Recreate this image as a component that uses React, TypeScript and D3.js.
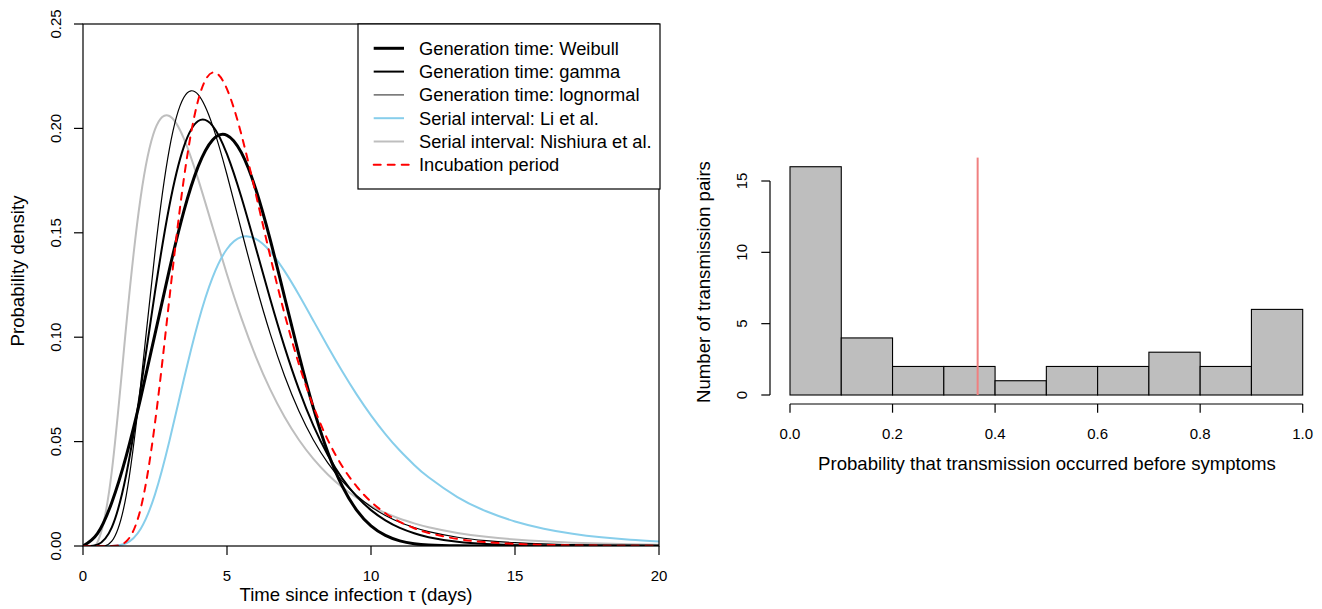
import React, { useEffect, useRef } from 'react';
import * as d3 from 'd3';

// time grid (days) shared by every density curve
const days = [
  0, 0.5, 1, 1.5, 2, 2.5, 3, 3.5, 4, 4.5, 5, 5.5, 6, 6.5, 7, 7.5, 8, 8.5, 9, 9.5,
  10, 10.5, 11, 11.5, 12, 13, 14, 15, 16, 17, 18, 19, 20,
];

const genWeibull = [
  0, 0.00592, 0.02087, 0.04305, 0.07069, 0.10145, 0.13237, 0.16024, 0.18179, 0.19446,
  0.19669, 0.18838, 0.17087, 0.14673, 0.11914, 0.0914, 0.06605, 0.04494, 0.02873, 0.01722,
  0.00966, 0.00505, 0.00246, 0.00112, 0.00047, 0.00007, 0.00001, 0, 0, 0, 0, 0, 0,
];

const genGamma = [
  0, 0.000605, 0.008928, 0.034139, 0.075001, 0.12171, 0.16298, 0.19118, 0.20355, 0.20126,
  0.1877, 0.16699, 0.14287, 0.11829, 0.095246, 0.074893, 0.057656, 0.043577, 0.032401, 0.023743,
  0.01718, 0.012281, 0.008682, 0.006082, 0.004223, 0.001988, 0.00091, 0.000407, 0.000178, 0.000077,
  0.000032, 0.000013, 0.000006,
];

const genLognormal = [
  0, 0.000006, 0.002288, 0.024166, 0.076889, 0.14062, 0.19024, 0.21483, 0.21615, 0.20132,
  0.17779, 0.15123, 0.12523, 0.1017, 0.081436, 0.06455, 0.050798, 0.039771, 0.031034, 0.024164,
  0.018795, 0.014613, 0.011364, 0.008845, 0.006891, 0.004203, 0.002581, 0.001598, 0.000998, 0.000629,
  0.0004, 0.000257, 0.000166,
];

const serialLi = [
  0, 0, 0.000047, 0.001314, 0.008147, 0.024716, 0.050258, 0.079698, 0.10721, 0.12867,
  0.14224, 0.14797, 0.14704, 0.14104, 0.13163, 0.12021, 0.10791, 0.095543, 0.083667, 0.072617,
  0.062575, 0.053607, 0.045711, 0.038835, 0.032893, 0.023451, 0.016624, 0.011757, 0.008306, 0.005873,
  0.00416, 0.002955, 0.002105,
];

const serialNishiura = [
  0, 0.001728, 0.035734, 0.10543, 0.16679, 0.1995, 0.20594, 0.19521, 0.17559, 0.15276,
  0.13004, 0.10913, 0.090729, 0.074992, 0.061759, 0.050762, 0.041697, 0.034256, 0.028165, 0.023189,
  0.01912, 0.015795, 0.013074, 0.010845, 0.009015, 0.006275, 0.004406, 0.003122, 0.002234, 0.001611,
  0.001171, 0.000859, 0.000634,
];

const incubation = [
  0, 0, 0.000039, 0.002173, 0.017785, 0.058934, 0.11851, 0.17567, 0.21356, 0.22674,
  0.21881, 0.19704, 0.16861, 0.13886, 0.1111, 0.086944, 0.066905, 0.050824, 0.038232, 0.028543,
  0.0212, 0.015676, 0.011562, 0.008511, 0.006261, 0.003384, 0.001833, 0.000998, 0.000547, 0.000302,
  0.000168, 0.000095, 0.000054,
];

const curveLabels = [
  'Generation time: Weibull',
  'Generation time: gamma',
  'Generation time: lognormal',
  'Serial interval: Li et al.',
  'Serial interval: Nishiura et al.',
  'Incubation period',
];

const xTicksLeft = [0, 5, 10, 15, 20];
const yTicksLeft = [0, 0.05, 0.1, 0.15, 0.2, 0.25];

// histogram of pre-symptomatic transmission probability
const binEdges = [0, 0.1, 0.2, 0.3, 0.4, 0.5, 0.6, 0.7, 0.8, 0.9, 1.0];
const binCounts = [16, 4, 2, 2, 1, 2, 2, 3, 2, 6];
const xTicksRight = [0, 0.2, 0.4, 0.6, 0.8, 1.0];
const yTicksRight = [0, 5, 10, 15];
const meanProb = 0.366;

const FONT = '"Liberation Sans", Arial, Helvetica, sans-serif';
const TICK_SIZE = '15px';
const LABEL_SIZE = '18.6px';

const App: React.FC = () => {
  const svgRef = useRef<SVGSVGElement>(null);

  useEffect(() => {
    if (!svgRef.current) return;
    const svg = d3.select(svgRef.current);
    svg.selectAll('*').remove();

    // ---------- left panel: densities ----------
    const x = d3.scaleLinear().domain([0, 20]).range([83, 659]);
    const y = d3.scaleLinear().domain([0, 0.25]).range([546, 24]);

    svg.append('defs').append('clipPath').attr('id', 'plotclip')
      .append('rect')
      .attr('x', x(0)).attr('y', y(0.25))
      .attr('width', x(20) - x(0)).attr('height', y(0) - y(0.25));

    const series = [
      { values: genWeibull, color: '#000000', width: 3, dash: null as string | null, legendColor: '#000000' },
      { values: genGamma, color: '#000000', width: 2, dash: null, legendColor: '#000000' },
      { values: genLognormal, color: '#000000', width: 1.2, dash: null, legendColor: '#444444' },
      { values: serialLi, color: '#87CEEB', width: 2, dash: null, legendColor: '#87CEEB' },
      { values: serialNishiura, color: '#BEBEBE', width: 2, dash: null, legendColor: '#BEBEBE' },
      { values: incubation, color: '#FF0000', width: 2, dash: '7,7', legendColor: '#FF0000' },
    ];

    const line = d3.line<number>()
      .x((_, i) => x(days[i]))
      .y((d) => y(d))
      .curve(d3.curveNatural);

    const curves = svg.append('g').attr('clip-path', 'url(#plotclip)');
    const drawOrder = [4, 3, 2, 1, 0, 5];
    drawOrder.forEach((k) => {
      const s = series[k];
      curves.append('path')
        .attr('d', line(s.values) || '')
        .attr('fill', 'none')
        .attr('stroke', s.color)
        .attr('stroke-width', s.width)
        .attr('stroke-linecap', 'round')
        .attr('stroke-dasharray', s.dash);
    });

    // box
    svg.append('rect')
      .attr('x', x(0)).attr('y', y(0.25))
      .attr('width', x(20) - x(0)).attr('height', y(0) - y(0.25))
      .attr('fill', 'none').attr('stroke', '#000').attr('stroke-width', 1.2);

    // x axis ticks
    const gxl = svg.append('g');
    gxl.selectAll('line').data(xTicksLeft).enter().append('line')
      .attr('x1', (d) => x(d)).attr('x2', (d) => x(d))
      .attr('y1', y(0)).attr('y2', y(0) + 9)
      .attr('stroke', '#000').attr('stroke-width', 1.2);
    gxl.selectAll('text').data(xTicksLeft).enter().append('text')
      .attr('x', (d) => x(d)).attr('y', 580.5)
      .attr('text-anchor', 'middle')
      .style('font-family', FONT).style('font-size', TICK_SIZE)
      .text((d) => String(d));

    // y axis ticks
    const gyl = svg.append('g');
    gyl.selectAll('line').data(yTicksLeft).enter().append('line')
      .attr('x1', x(0) - 9).attr('x2', x(0))
      .attr('y1', (d) => y(d)).attr('y2', (d) => y(d))
      .attr('stroke', '#000').attr('stroke-width', 1.2);
    gyl.selectAll('text').data(yTicksLeft).enter().append('text')
      .attr('transform', (d) => `translate(60.5,${y(d)}) rotate(-90)`)
      .attr('text-anchor', 'middle')
      .style('font-family', FONT).style('font-size', TICK_SIZE)
      .text((d) => d3.format('.2f')(d));

    svg.append('text')
      .attr('x', 356).attr('y', 601)
      .attr('text-anchor', 'middle')
      .style('font-family', FONT).style('font-size', LABEL_SIZE)
      .text('Time since infection \u03C4 (days)');

    svg.append('text')
      .attr('transform', 'translate(24,271) rotate(-90)')
      .attr('text-anchor', 'middle')
      .style('font-family', FONT).style('font-size', LABEL_SIZE)
      .text('Probability density');

    // legend
    const lg = svg.append('g');
    lg.append('rect')
      .attr('x', 358).attr('y', 24).attr('width', 302).attr('height', 165)
      .attr('fill', '#fff').attr('stroke', '#000').attr('stroke-width', 1.2);
    series.forEach((s, i) => {
      const ry = 48.3 + i * 23.3;
      lg.append('line')
        .attr('x1', 373.7).attr('x2', s.dash ? 409 : 404)
        .attr('y1', ry).attr('y2', ry)
        .attr('stroke', s.legendColor)
        .attr('stroke-width', s.width)
        .attr('stroke-dasharray', s.dash)
        .attr('stroke-linecap', s.dash ? 'round' : 'butt');
      lg.append('text')
        .attr('x', 419).attr('y', ry).attr('dy', '0.35em')
        .style('font-family', FONT).style('font-size', '18.3px')
        .text(curveLabels[i]);
    });

    // ---------- right panel: histogram ----------
    const xr = d3.scaleLinear().domain([0, 1]).range([790, 1302.7]);
    const yr = d3.scaleLinear().domain([0, 15]).range([395, 181]);

    const bins = binCounts.map((c, i) => ({ lo: binEdges[i], hi: binEdges[i + 1], c }));
    svg.append('g').selectAll('rect').data(bins).enter().append('rect')
      .attr('x', (d) => xr(d.lo))
      .attr('y', (d) => yr(d.c))
      .attr('width', (d) => xr(d.hi) - xr(d.lo))
      .attr('height', (d) => yr(0) - yr(d.c))
      .attr('fill', '#BEBEBE')
      .attr('stroke', '#000')
      .attr('stroke-width', 1.1);

    svg.append('line')
      .attr('x1', xr(meanProb)).attr('x2', xr(meanProb))
      .attr('y1', yr(0)).attr('y2', yr(16.64))
      .attr('stroke', '#F08080').attr('stroke-width', 2);

    const axisY = 404;
    const gxr = svg.append('g');
    gxr.append('line')
      .attr('x1', xr(0)).attr('x2', xr(1)).attr('y1', axisY).attr('y2', axisY)
      .attr('stroke', '#000').attr('stroke-width', 1.2);
    gxr.selectAll('line.tick').data(xTicksRight).enter().append('line')
      .attr('class', 'tick')
      .attr('x1', (d) => xr(d)).attr('x2', (d) => xr(d))
      .attr('y1', axisY).attr('y2', axisY + 8.7)
      .attr('stroke', '#000').attr('stroke-width', 1.2);
    gxr.selectAll('text').data(xTicksRight).enter().append('text')
      .attr('x', (d) => xr(d)).attr('y', 438.5)
      .attr('text-anchor', 'middle')
      .style('font-family', FONT).style('font-size', TICK_SIZE)
      .text((d) => d3.format('.1f')(d));

    const axisX = 770;
    const gyr = svg.append('g');
    gyr.append('line')
      .attr('x1', axisX).attr('x2', axisX).attr('y1', yr(0)).attr('y2', yr(15))
      .attr('stroke', '#000').attr('stroke-width', 1.2);
    gyr.selectAll('line.tick').data(yTicksRight).enter().append('line')
      .attr('class', 'tick')
      .attr('x1', axisX - 8.7).attr('x2', axisX)
      .attr('y1', (d) => yr(d)).attr('y2', (d) => yr(d))
      .attr('stroke', '#000').attr('stroke-width', 1.2);
    gyr.selectAll('text').data(yTicksRight).enter().append('text')
      .attr('transform', (d) => `translate(747.3,${yr(d)}) rotate(-90)`)
      .attr('text-anchor', 'middle')
      .style('font-family', FONT).style('font-size', TICK_SIZE)
      .text((d) => String(d));

    svg.append('text')
      .attr('x', 1047).attr('y', 470)
      .attr('text-anchor', 'middle')
      .style('font-family', FONT).style('font-size', LABEL_SIZE)
      .text('Probability that transmission occurred before symptoms');

    svg.append('text')
      .attr('transform', 'translate(710,282) rotate(-90)')
      .attr('text-anchor', 'middle')
      .style('font-family', FONT).style('font-size', LABEL_SIZE)
      .text('Number of transmission pairs');
  }, []);

  return (
    <svg
      ref={svgRef}
      width={1322}
      height={609}
      style={{ position: 'absolute', left: 0, top: 0, background: '#fff' }}
    />
  );
};

export default App;
